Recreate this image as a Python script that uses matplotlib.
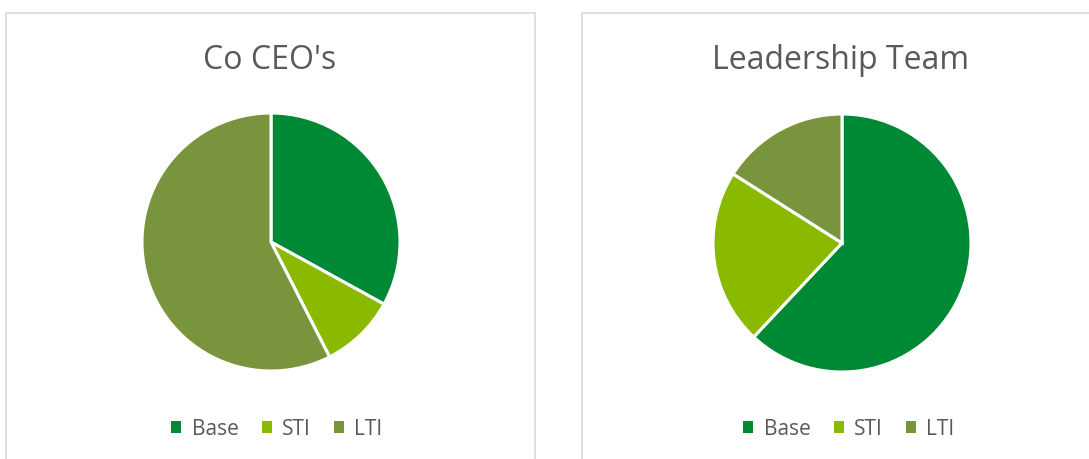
import matplotlib
matplotlib.use("Agg")
import matplotlib.pyplot as plt
from matplotlib.patches import Rectangle, Patch

plt.rcParams['font.family'] = ['Open Sans', 'DejaVu Sans']

# data (share of pay, %)
labels = ["Base", "STI", "LTI"]
ceo_values = [33, 9.5, 57.5]
team_values = [62, 22, 16]
titles = ["Co CEO's", "Leadership Team"]
colors = ["#008934", "#8aba00", "#78953d"]
text_color = "#595959"

W, H = 1089, 460
fig = plt.figure(figsize=(W / 100, H / 100), dpi=100)

# chart area borders (px, from top-left)
panels = [(6, 14, 529, 470), (582, 14, 520, 470)]
for x0, y0, w, h in panels:
    fig.patches.append(Rectangle((x0 / W, 1 - (y0 + h) / H), w / W, h / H,
                                 transform=fig.transFigure, fill=False,
                                 edgecolor="#d9d9d9", linewidth=1.2))

centers = [(271, 243), (842, 244)]
radius_px = 129
half = 150
title_x = [270, 841]
legend_x = [277, 849]

handles = [Patch(facecolor=c, edgecolor="none") for c in colors]

for i, values in enumerate([ceo_values, team_values]):
    cx, cy = centers[i]
    ax = fig.add_axes([(cx - half) / W, 1 - (cy + half) / H, 2 * half / W, 2 * half / H])
    lim = half / radius_px
    ax.pie(values, colors=colors, startangle=90, counterclock=False,
           wedgeprops=dict(edgecolor="white", linewidth=2.2))
    ax.set_xlim(-lim, lim)
    ax.set_ylim(-lim, lim)
    ax.set_aspect("equal")
    ax.axis("off")

    fig.text(title_x[i] / W, 1 - 69 / H, titles[i], ha="center", va="baseline",
             fontsize=23, color=text_color)

    fig.legend(handles, labels, loc="center", ncol=3,
               bbox_to_anchor=(legend_x[i] / W, 1 - 430 / H),
               frameon=False, fontsize=15, labelcolor=text_color,
               handlelength=0.48, handleheight=0.48, handletextpad=0.5,
               columnspacing=1.1)

fig.savefig("out.png", dpi=100)
